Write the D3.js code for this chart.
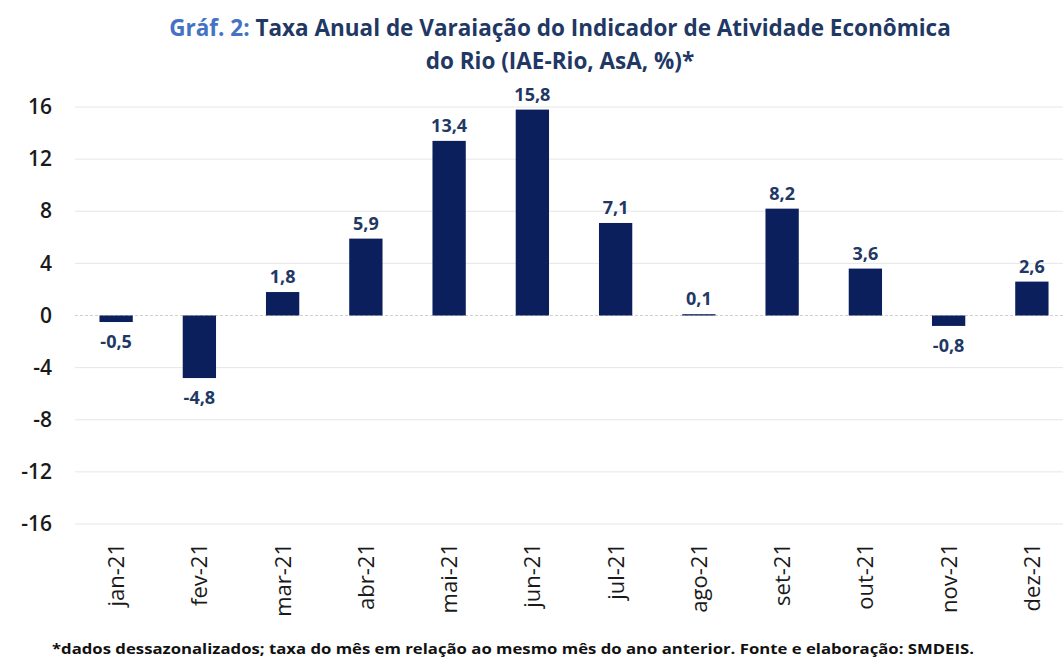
<!DOCTYPE html>
<html>
<head>
<meta charset="utf-8">
<script src="https://cdn.jsdelivr.net/npm/d3@7"></script>
<style>
  body { margin: 0; background: #fff; }
  svg { display: block; font-family: "Open Sans", sans-serif; }
</style>
</head>
<body>
<svg width="1063" height="660"></svg>
<script>
// data
const months = ["jan-21", "fev-21", "mar-21", "abr-21", "mai-21", "jun-21",
                "jul-21", "ago-21", "set-21", "out-21", "nov-21", "dez-21"];
const values = [-0.5, -4.8, 1.8, 5.9, 13.4, 15.8, 7.1, 0.1, 8.2, 3.6, -0.8, 2.6];
const yTicks = [-16, -12, -8, -4, 0, 4, 8, 12, 16];

const svg = d3.select("svg");
const W = 1063, H = 660;

const x = d3.scaleBand()
  .domain(months)
  .range([74.5, 1073.5])
  .paddingInner(0.6)
  .paddingOuter(0.3);

const y = d3.scaleLinear()
  .domain([-16, 16])
  .range([524, 107]);

// label format with comma decimal and plain hyphen
const fmt = d => d3.format(".1f")(d).replace(".", ",").replace("\u2212", "-");

// gridlines
svg.append("g")
  .selectAll("line")
  .data(yTicks.filter(d => d !== 0))
  .join("line")
  .attr("x1", 75).attr("x2", W)
  .attr("y1", d => y(d)).attr("y2", d => y(d))
  .attr("stroke", "#e6e6e6")
  .attr("stroke-width", 1);

// zero line (dashed)
svg.append("line")
  .attr("x1", 75).attr("x2", W)
  .attr("y1", y(0)).attr("y2", y(0))
  .attr("stroke", "#d0d0d0")
  .attr("stroke-dasharray", "3,2");

// y axis labels
const yAxis = d3.axisLeft(y).tickValues(yTicks).tickSize(0).tickPadding(0)
  .tickFormat(d => String(d));
svg.append("g")
  .attr("transform", "translate(52,0)")
  .call(yAxis)
  .call(g => g.select(".domain").remove())
  .selectAll("text")
  .attr("font-family", "Open Sans, sans-serif")
  .attr("font-size", 21)
  .attr("font-weight", 600)
  .attr("fill", "#1a1a1a");

// bars
svg.append("g")
  .selectAll("rect")
  .data(values)
  .join("rect")
  .attr("x", (d, i) => x(months[i]))
  .attr("width", x.bandwidth())
  .attr("y", d => y(Math.max(0, d)))
  .attr("height", d => Math.abs(y(d) - y(0)))
  .attr("fill", "#0a1f5c");

// value labels
svg.append("g")
  .selectAll("text")
  .data(values)
  .join("text")
  .attr("x", (d, i) => x(months[i]) + x.bandwidth() / 2)
  .attr("y", d => d >= 0 ? y(d) - 9 : y(d) + 26)
  .attr("text-anchor", "middle")
  .attr("font-size", 18)
  .attr("font-weight", 700)
  .attr("fill", "#1f3864")
  .text(fmt);

// x axis labels, rotated
svg.append("g")
  .selectAll("text")
  .data(months)
  .join("text")
  .attr("transform", d => `translate(${x(d) + x.bandwidth() / 2 + 8},543) rotate(-90)`)
  .attr("text-anchor", "end")
  .attr("font-size", 22)
  .attr("fill", "#1a1a1a")
  .text(d => d);

// title
const title = svg.append("text")
  .attr("x", 560).attr("y", 36)
  .attr("text-anchor", "middle")
  .attr("font-size", 22.5)
  .attr("font-weight", 700)
  .attr("fill", "#1f3864");
title.append("tspan").attr("fill", "#4472c4").text("Gráf. 2: ");
title.append("tspan").text("Taxa Anual de Varaiação do Indicador de Atividade Econômica");

svg.append("text")
  .attr("x", 560).attr("y", 69)
  .attr("text-anchor", "middle")
  .attr("font-size", 22.5)
  .attr("font-weight", 700)
  .attr("fill", "#1f3864")
  .text("do Rio (IAE-Rio, AsA, %)*");

// footnote
svg.append("text")
  .attr("x", 52).attr("y", 654)
  .attr("font-size", 15)
  .attr("font-weight", 700)
  .attr("fill", "#111")
  .attr("textLength", 922)
  .attr("lengthAdjust", "spacingAndGlyphs")
  .text("*dados dessazonalizados; taxa do mês em relação ao mesmo mês do ano anterior. Fonte e elaboração: SMDEIS.");
</script>
</body>
</html>
